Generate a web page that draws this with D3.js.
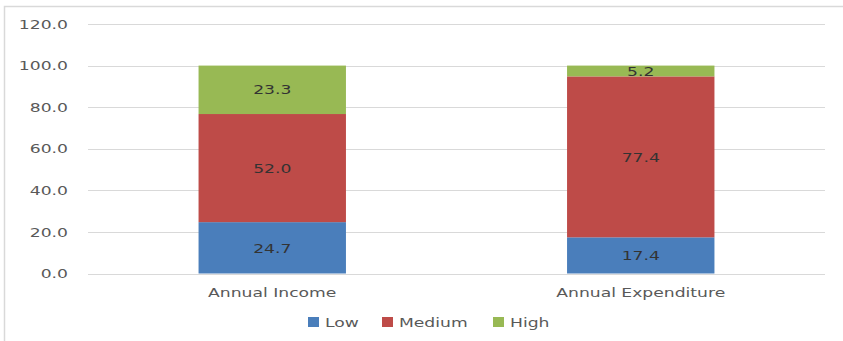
<!DOCTYPE html>
<html><head><meta charset="utf-8">
<script src="https://cdn.jsdelivr.net/npm/d3@7"></script>
<style>body{margin:0;background:#fff}svg{display:block}text{font-family:"DejaVu Sans",sans-serif}</style>
</head><body><svg id="c" width="843" height="341"></svg>
<script>
const categories = ["Annual Income", "Annual Expenditure"];
const seriesNames = ["Low", "Medium", "High"];
const low = [24.7, 17.4];
const medium = [52.0, 77.4];
const high = [23.3, 5.2];
const yTicks = [0, 20, 40, 60, 80, 100, 120];
const colors = ["#4A7EBB", "#BE4B48", "#98B954"];

const svg = d3.select("#c");
const STRETCH = 1.32;
function stretch(sel){
  sel.each(function(){ const w = this.getComputedTextLength(); d3.select(this).attr("textLength", w*STRETCH).attr("lengthAdjust","spacingAndGlyphs"); });
}
// outer border
svg.append("path").attr("d","M4.5,341 V6.5 H843").attr("fill","none").attr("stroke","#d9d9d9").attr("stroke-width",1.5);

const x = d3.scaleBand().domain(categories).range([88, 825]).paddingInner(0.6).paddingOuter(0.3);
const y = d3.scaleLinear().domain([0, 120]).range([273.5, 24]);

// gridlines
svg.append("g").selectAll("line").data(yTicks).join("line")
  .attr("x1", 88).attr("x2", 825).attr("y1", d=>Math.round(y(d))+0.5).attr("y2", d=>Math.round(y(d))+0.5)
  .attr("stroke", "#d9d9d9").attr("stroke-width", 1);

// y axis labels
const yl = svg.append("g").selectAll("text").data(yTicks).join("text")
  .attr("x", 68).attr("y", d=>y(d)).attr("dy","0.36em").attr("text-anchor","end")
  .attr("font-size", 13).attr("fill","#595959").text(d=>d.toFixed(1));
stretch(yl);

const rows = categories.map((c,i)=>({cat:c, Low:low[i], Medium:medium[i], High:high[i]}));
const stacked = d3.stack().keys(seriesNames)(rows);

const g = svg.append("g");
stacked.forEach((s, si) => {
  g.selectAll(null).data(s).join("rect")
    .attr("x", d=>x(d.data.cat)).attr("width", x.bandwidth())
    .attr("y", d=>y(d[1])).attr("height", d=>y(d[0])-y(d[1]))
    .attr("fill", colors[si]);
});
stacked.forEach((s, si) => {
  const t = g.selectAll(null).data(s).join("text")
    .attr("x", d=>x(d.data.cat)+x.bandwidth()/2)
    .attr("y", d=>(y(d[0])+y(d[1]))/2).attr("dy","0.36em")
    .attr("text-anchor","middle").attr("font-size",13).attr("fill","#333")
    .text(d=>(d[1]-d[0]).toFixed(1));
  stretch(t);
});

// category labels
const cl = svg.append("g").selectAll("text").data(categories).join("text")
  .attr("x", d=>x(d)+x.bandwidth()/2).attr("y", 297).attr("text-anchor","middle")
  .attr("font-size",13).attr("fill","#595959").text(d=>d);
stretch(cl);

// legend
const legX = [308, 382, 493];
const lg = svg.append("g");
seriesNames.forEach((n,i)=>{
  lg.append("rect").attr("x", legX[i]).attr("y", 317).attr("width", 11).attr("height", 10).attr("fill", colors[i]);
  const t = lg.append("text").attr("x", legX[i]+17).attr("y", 322).attr("dy","0.36em")
    .attr("font-size",13).attr("fill","#595959").text(n);
  stretch(t);
});
</script></body></html>
